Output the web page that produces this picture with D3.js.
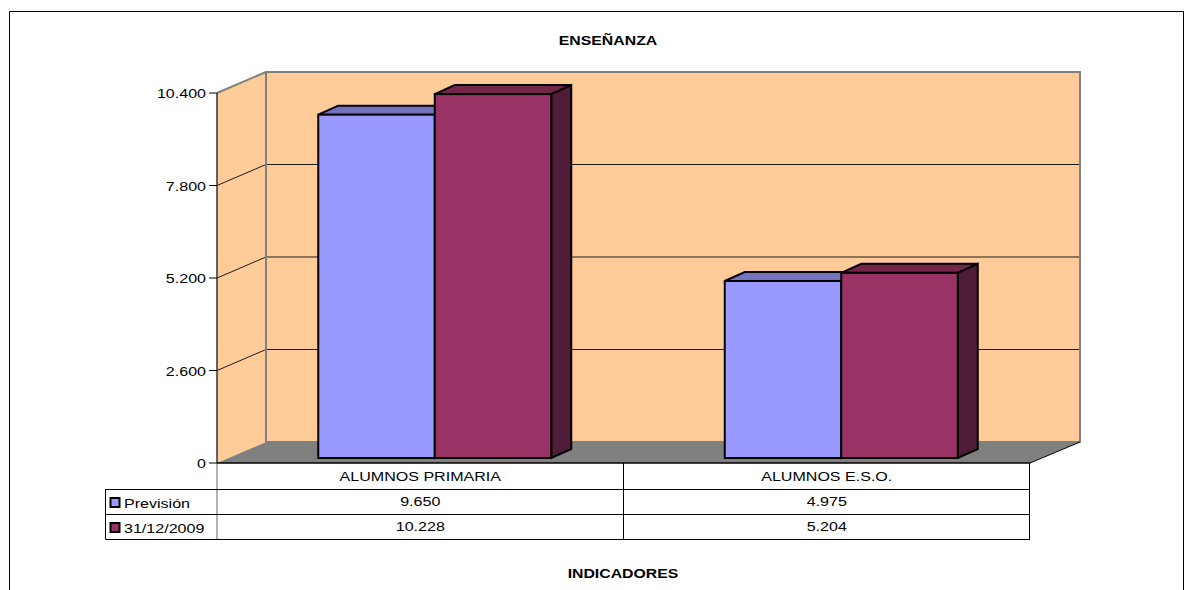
<!DOCTYPE html>
<html><head><meta charset="utf-8">
<script src="https://cdnjs.cloudflare.com/ajax/libs/d3/7.8.5/d3.min.js"></script>
<style>html,body{margin:0;padding:0;background:#fff}svg{display:block}text{font-family:"Liberation Sans",Arial,sans-serif;fill:#000}</style>
</head><body><svg id="c" width="1194" height="590"></svg>
<script>
const title = "ENSEÑANZA";
const xTitle = "INDICADORES";
const categories = ["ALUMNOS PRIMARIA", "ALUMNOS E.S.O."];
const seriesNames = ["Previsión", "31/12/2009"];
const prevision = [9650, 4975];
const fin2009 = [10228, 5204];
const tickValues = [0, 2600, 5200, 7800, 10400];
const tickLabels = ["0", "2.600", "5.200", "7.800", "10.400"];
const rowLabels = [["9.650", "4.975"], ["10.228", "5.204"]];
const fills = ["#9999FF", "#993366"];
const tops = ["#7373BF", "#732649"];
const sides = ["#5B5B99", "#4F1D37"];

const svg = d3.select("#c");
const L = 217, R = 1030, Y0 = 463, Y1 = 93, DX = 49, DY = -21;
const y = d3.scaleLinear().domain([0, 10400]).range([Y0, Y1]);
const x0 = d3.scaleBand().domain(categories).range([L, R]);
const barW = 116.5, barDX = 20, barDY = -9, barFront = 5, barShift = 14.5;
const poly = p => p.map(a => a.join(",")).join(" ");
// The original picture is stretched horizontally, so text is too.
const label = (x, yy, s, size, anchor, bold, sx) => svg.append("text")
  .attr("transform", `translate(${x},${yy}) scale(${sx || 1.19},1)`)
  .attr("text-anchor", anchor).attr("font-size", size)
  .attr("font-weight", bold ? "bold" : "normal").text(s);

// frame
svg.append("path").attr("d", "M9.5,590V11.5H1183.5V590").attr("fill", "none").attr("stroke", "#000");

// walls
svg.append("polygon").attr("points", poly([[L,y(0)],[L+DX,y(0)+DY],[L+DX,y(10400)+DY],[L,y(10400)]]))
  .attr("fill", "#FFCC99");
svg.append("rect").attr("x", L+DX).attr("y", y(10400)+DY).attr("width", R-L).attr("height", y(0)-y(10400))
  .attr("fill", "#FFCC99");
svg.append("polygon").attr("points", poly([[L,y(0)],[R,y(0)],[R+DX+1,y(0)+DY],[L+DX,y(0)+DY]]))
  .attr("fill", "#808080");

// gridlines
tickValues.slice(1, -1).forEach(t => {
  svg.append("path").attr("fill", "none").attr("stroke", "#1a1a1a").attr("stroke-width", 1)
    .attr("d", `M${L},${y(t)}L${L+DX},${y(t)+DY}H${R+DX+1}`);
});
// wall outlines
svg.append("path").attr("fill", "none").attr("stroke", "#808080").attr("stroke-width", 2)
  .attr("d", `M${L},${y(10400)}L${L+DX},${y(10400)+DY}H${R+DX+1}V${y(0)+DY}H${L+DX}M${L+DX},${y(10400)+DY}V${y(0)+DY}`);
svg.append("path").attr("fill", "none").attr("stroke", "#000").attr("stroke-width", 1)
  .attr("d", `M${R},${y(0)}L${R+DX+1},${y(0)+DY}`);

// bars
const values = [prevision, fin2009];
categories.forEach((c, i) => {
  const cx = x0(c) + x0.bandwidth() / 2 + barShift;
  [0, 1].forEach(s => {
    const xl = cx + (s - 1) * barW, xr = xl + barW;
    const yb = y(0) - barFront, yt = yb - (y(0) - y(values[s][i]));
    const g = svg.append("g").attr("stroke", "#000").attr("stroke-width", 2).attr("stroke-linejoin", "miter");
    g.append("polygon").attr("fill", tops[s])
      .attr("points", poly([[xl,yt],[xl+barDX,yt+barDY],[xr+barDX,yt+barDY],[xr,yt]]));
    g.append("polygon").attr("fill", sides[s])
      .attr("points", poly([[xr,yt],[xr+barDX,yt+barDY],[xr+barDX,yb+barDY],[xr,yb]]));
    g.append("rect").attr("x", xl).attr("y", yt).attr("width", barW).attr("height", yb - yt).attr("fill", fills[s]);
  });
});

// value axis
svg.append("path").attr("fill", "none").attr("stroke", "#333").attr("stroke-width", 1.5)
  .attr("d", `M${L},${y(10400)}V${y(0)}`);
svg.append("path").attr("fill", "none").attr("stroke", "#666").attr("stroke-width", 1)
  .attr("d", `M${L},${y(0)}V${y(0)+77}`);
tickValues.forEach((t, i) => {
  svg.append("line").attr("x1", L-8).attr("x2", L).attr("y1", y(t)).attr("y2", y(t)).attr("stroke", "#000");
  label(L-11, y(t)+5, tickLabels[i], 13.5, "end");
});
svg.append("path").attr("fill", "none").attr("stroke", "#000").attr("d", `M${L},${y(0)}H${R}`).attr("stroke-width", 1.5);

// data table
const rowY = [Y0, 489, 514, 539.5], TL = 106;
svg.append("path").attr("fill", "none").attr("stroke", "#000")
  .attr("d", `M${TL-.5},${rowY[1]+.5}H${R}M${TL-.5},${rowY[2]+.5}H${R}M${TL-.5},${rowY[3]}H${R}M${TL-.5},${rowY[1]}V${rowY[3]}M${R-.5},${rowY[0]}V${rowY[3]}M${x0(categories[1])},${rowY[0]}V${rowY[3]}`);
categories.forEach((c, i) => {
  const cx = x0(c) + x0.bandwidth() / 2;
  label(cx, rowY[0]+18, c, 13.5, "middle");
  [0, 1].forEach(s => label(cx, rowY[s+1]+17, rowLabels[s][i], 13.5, "middle"));
});
seriesNames.forEach((n, s) => {
  svg.append("rect").attr("x", TL+4.5).attr("y", rowY[s+1]+9).attr("width", 9).attr("height", 9)
    .attr("fill", fills[s]).attr("stroke", "#000").attr("stroke-width", 2);
  label(TL+18, rowY[s+1]+18.5, n, 13.5, "start");
});

// titles
label(608, 45, title, 13.3, "middle", true);
label(623, 578, xTitle, 13.3, "middle", true);
</script></body></html>
